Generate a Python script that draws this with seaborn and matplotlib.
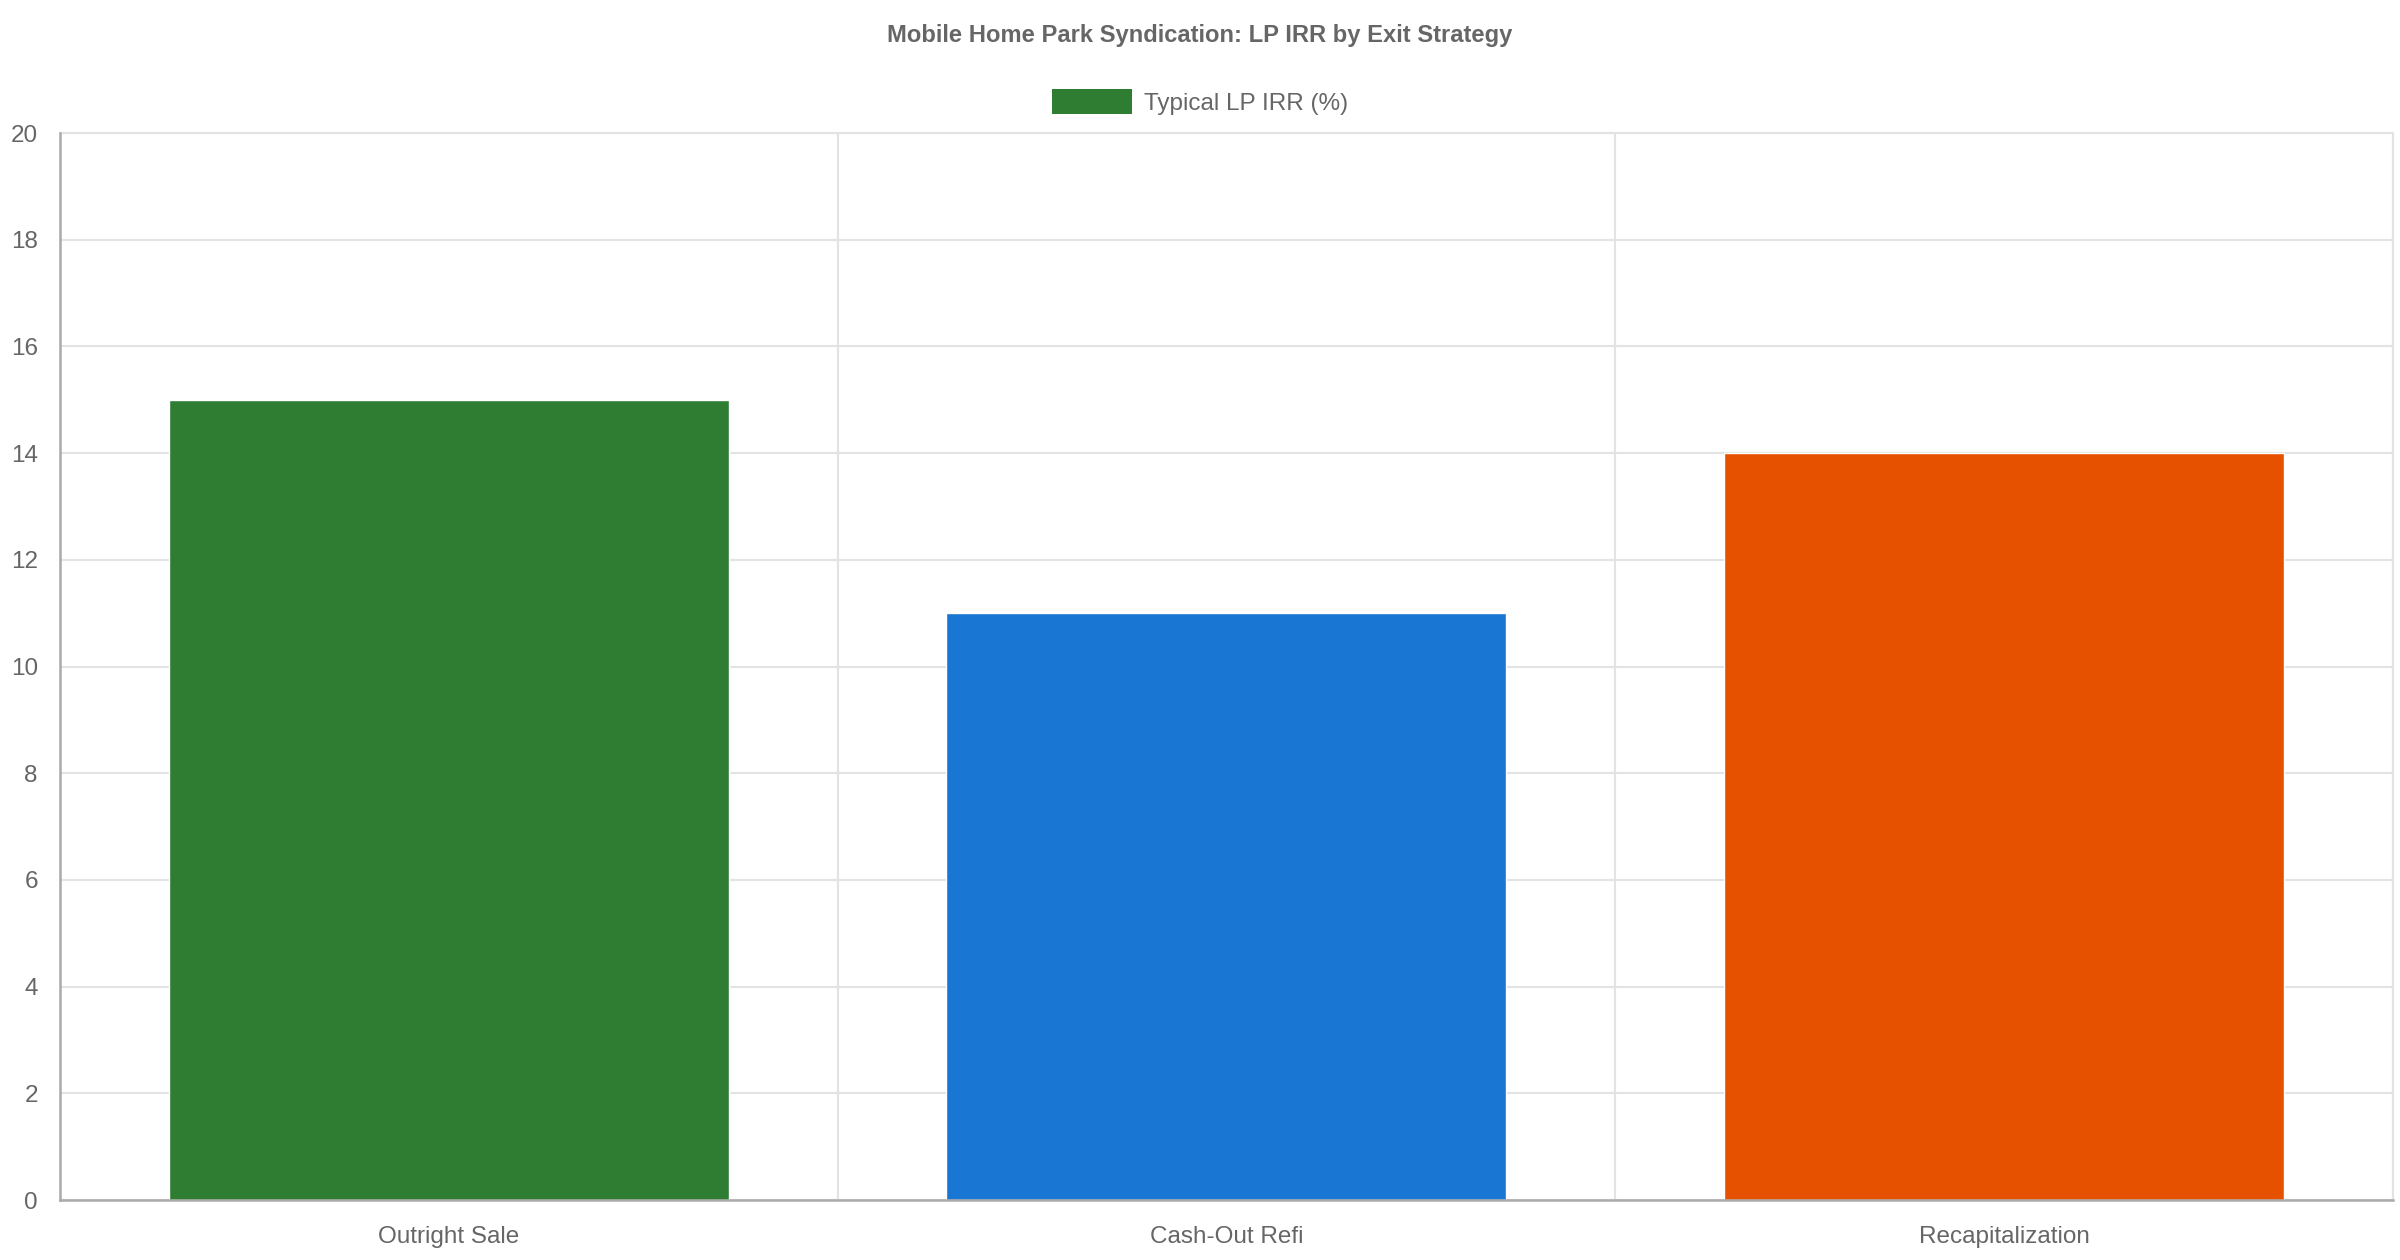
import matplotlib
matplotlib.use("Agg")
import matplotlib.pyplot as plt
import matplotlib.patches as mpatches
import seaborn as sns
import pandas as pd

# Data
strategies = ["Outright Sale", "Cash-Out Refi", "Recapitalization"]
lp_irr = [15, 11, 14]
bar_colors = ["#2E7D32", "#1976D2", "#E65100"]
series_label = "Typical LP IRR (%)"
title = "Mobile Home Park Syndication: LP IRR by Exit Strategy"
y_ticks = list(range(0, 21, 2))

df = pd.DataFrame({"Strategy": strategies, "IRR": lp_irr})

sns.set_style("white")
plt.rcParams["font.family"] = ["Liberation Sans", "DejaVu Sans"]

text_color = "#666666"
grid_color = "#e3e3e3"
axis_color = "#aaaaaa"

fig = plt.figure(figsize=(24, 12.6), dpi=100)
ax = fig.add_axes([0.025, 0.0476, 0.972, 0.8468])

sns.barplot(data=df, x="Strategy", y="IRR", hue="Strategy",
            palette=bar_colors, width=0.72, legend=False, ax=ax,
            saturation=1, zorder=3)

ax.set_xlim(-0.5, 2.5)
ax.set_ylim(0, 20)
ax.set_yticks(y_ticks)
ax.set_xticks(range(len(strategies)))
ax.set_xticklabels(strategies)
ax.set_xticks([-0.5, 0.5, 1.5, 2.5], minor=True)
ax.set_xlabel("")
ax.set_ylabel("")

# grid lines
ax.grid(True, axis="y", color=grid_color, linewidth=1.5, zorder=0)
ax.grid(True, axis="x", which="minor", color=grid_color, linewidth=1.5, zorder=0)
ax.grid(False, axis="x", which="major")

ax.tick_params(axis="y", length=14, width=1.5, color=grid_color,
               labelsize=17.5, labelcolor=text_color, pad=2)
ax.tick_params(axis="x", which="major", length=0, labelsize=17.5,
               labelcolor=text_color, pad=19)
ax.tick_params(axis="x", which="minor", length=14, width=1.5, color=grid_color)

for side in ["left", "bottom"]:
    ax.spines[side].set_color(axis_color)
    ax.spines[side].set_linewidth(1.8)
    ax.spines[side].set_zorder(4)
for side in ["top", "right"]:
    ax.spines[side].set_color(grid_color)
    ax.spines[side].set_linewidth(1.5)

fig.text(0.5, 0.972, title, ha="center", va="center", fontsize=17.1,
         fontweight="bold", color=text_color)

handle = mpatches.Patch(facecolor=bar_colors[0], edgecolor="none", label=series_label)
fig.legend(handles=[handle], loc="center", bbox_to_anchor=(0.5, 0.919),
           frameon=False, fontsize=17.5, labelcolor=text_color,
           handlelength=3.3, handleheight=1.15, handletextpad=0.5)

fig.savefig("out.png", dpi=100)
